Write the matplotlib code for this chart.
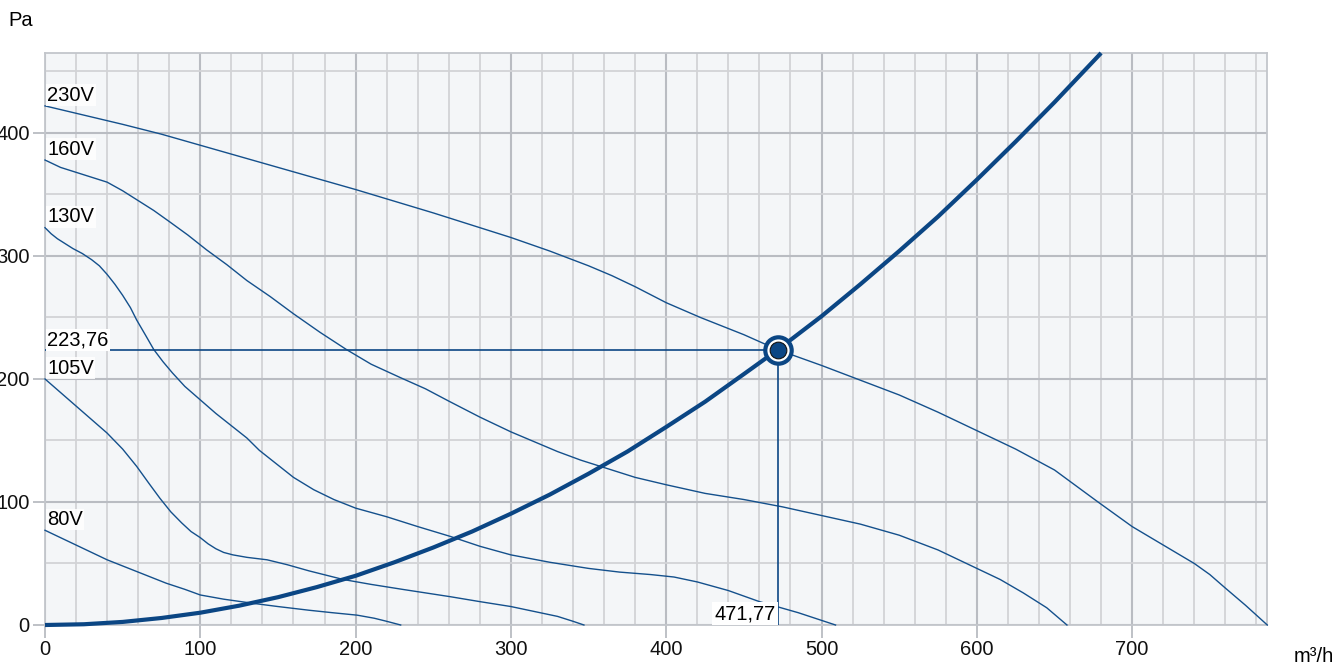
import matplotlib
matplotlib.use('Agg')
import matplotlib.pyplot as plt
from matplotlib.ticker import MultipleLocator

# fan curves (m3/h, Pa)
fan_230_x = [0, 20, 50, 75, 100, 125, 150, 200, 250, 300, 325, 350, 365, 380, 400, 422, 450, 471.77, 500, 525, 550, 575,
             600, 625, 650, 678, 700, 720, 740, 750, 760, 773, 787]
fan_230_y = [422, 416, 407, 399, 390, 381, 372, 354, 335, 315, 304, 292, 284, 275, 262, 250, 236, 223.76, 211, 199, 187, 173,
             158, 143, 126, 100, 80, 65, 50, 41, 30, 16, 0]

fan_160_x = [0, 10, 25, 40, 50, 60, 70, 80, 92, 104, 117, 130, 145, 160, 177, 194, 210, 229, 245, 260, 280, 300, 315, 330,
             345, 360, 380, 400, 425, 450, 475, 500, 525, 550, 575, 600, 615, 630, 645, 658]
fan_160_y = [378, 372, 366, 360, 353, 345, 337, 328, 317, 305, 293, 280, 267, 253, 238, 224, 212, 201, 192, 182, 169, 157,
             149, 141, 134, 128, 120, 114, 107, 102, 96, 89, 82, 73, 61, 46, 37, 26, 14, 0]

fan_130_x = [0, 4, 8, 13, 18, 24, 30, 35, 40, 45, 50, 55, 59, 65, 70, 76, 82, 90, 100, 110, 120, 130, 138, 150, 160, 173,
             186, 200, 220, 240, 261, 280, 300, 325, 350, 370, 390, 405, 420, 440, 460, 485, 509]
fan_130_y = [323, 318, 314, 310, 306, 302, 297, 292, 285, 277, 268, 258, 248, 235, 224, 214, 205, 194, 183, 172, 162, 152,
             142, 130, 120, 110, 102, 95, 88, 80, 72, 64, 57, 51, 46, 43, 41, 39, 35, 28, 19, 10, 0]

fan_105_x = [0, 10, 20, 30, 40, 50, 59, 67, 74, 81, 88, 94, 100, 105, 110, 115, 121, 130, 143, 156, 170, 192, 210, 230,
             261, 280, 300, 315, 330, 340, 347]
fan_105_y = [200, 189, 178, 167, 156, 143, 129, 115, 103, 92, 83, 76, 71, 66, 62, 59, 57, 55, 53, 49, 44, 37, 33, 29,
             23, 19, 15, 11, 7, 3, 0]

fan_80_x = [0, 10, 20, 30, 40, 50, 60, 70, 78, 90, 100, 115, 134, 150, 170, 185, 201, 212, 220, 229]
fan_80_y = [77, 71, 65, 59, 53, 48, 43, 38, 34, 29, 24.4, 21, 17.6, 15, 12, 10, 8, 5.5, 3, 0]

system_x = [0, 25, 50, 75, 100, 125, 150, 175, 200, 225, 250, 275, 300, 325, 350, 375, 400, 425, 450, 471.77,
            500, 525, 550, 575, 600, 625, 650, 680]
system_y = [0, 0.6, 2.5, 5.7, 10, 15.7, 22.6, 30.8, 40, 51, 63, 76, 90.5, 106, 123, 141, 161, 181.5, 204, 223.76,
            251, 277, 304, 332, 362, 393, 425, 465]

op_x = 471.77
op_y = 223.76
op_x_label = '471,77'
op_y_label = '223,76'

fan_curves = [
    ('230V', fan_230_x, fan_230_y),
    ('160V', fan_160_x, fan_160_y),
    ('130V', fan_130_x, fan_130_y),
    ('105V', fan_105_x, fan_105_y),
    ('80V', fan_80_x, fan_80_y),
]

x_ticks = [0, 100, 200, 300, 400, 500, 600, 700]
y_ticks = [0, 100, 200, 300, 400]

BLUE = '#14508c'
DARK = '#0b4684'
FS = 14.5

plt.rcParams['font.family'] = ['Liberation Sans', 'DejaVu Sans']

fig = plt.figure(figsize=(13.35, 6.65), dpi=100)
ax = fig.add_axes([45 / 1335, 40 / 665, 1222.3 / 1335, 572 / 665])
ax.set_facecolor('#f4f6f8')
ax.set_xlim(0, 787)
ax.set_ylim(0, 465)

# grid: minor every 20 / 50, major every 100
ax.xaxis.set_minor_locator(MultipleLocator(20))
ax.yaxis.set_minor_locator(MultipleLocator(50))
ax.set_xticks(x_ticks)
ax.set_yticks(y_ticks)
ax.grid(which='minor', color='#d2d3d6', linewidth=1.3, zorder=0)
ax.grid(which='major', color='#b9bcc2', linewidth=1.5, zorder=0)
ax.set_axisbelow(True)
for s in ax.spines.values():
    s.set_color('#c3c6cb')
    s.set_linewidth(1.3)
ax.tick_params(which='major', length=9, width=1.3, color='#b9bcc2',
               labelsize=FS, labelcolor='#111111', pad=2)
ax.tick_params(which='minor', length=0)

for name, xs, ys in fan_curves:
    ax.plot(xs, ys, color=BLUE, linewidth=1.0, zorder=3, clip_on=False)
    ax.text(1.5, ys[0] + 1, name, fontsize=FS, ha='left', va='bottom', zorder=5,
            bbox=dict(facecolor='white', edgecolor='none', alpha=0.85, pad=1.0))

ax.plot(system_x, system_y, color=DARK, linewidth=3.0, zorder=4,
        solid_capstyle='butt', clip_on=False)

# operating point cross-hair
ax.plot([0, op_x], [op_y, op_y], color=DARK, linewidth=1.2, zorder=3)
ax.plot([op_x, op_x], [0, op_y], color=DARK, linewidth=1.2, zorder=3)
ax.text(1.5, op_y + 0.5, op_y_label, fontsize=FS, ha='left', va='bottom', zorder=5,
        bbox=dict(facecolor='white', edgecolor='none', pad=1.0))
ax.text(op_x - 1.5, 1.5, op_x_label, fontsize=FS, ha='right', va='bottom', zorder=5,
        bbox=dict(facecolor='white', edgecolor='none', pad=1.6))

ax.plot([op_x], [op_y], marker='o', markersize=19, markerfacecolor='white',
        markeredgecolor=DARK, markeredgewidth=3, zorder=6)
ax.plot([op_x], [op_y], marker='o', markersize=12, markerfacecolor=DARK,
        markeredgecolor='#111111', markeredgewidth=0.8, zorder=7)

fig.text(8 / 1335, 1 - 20 / 665, 'Pa', fontsize=FS, ha='left', va='center')
fig.text(1 - 1 / 1335, 1 - 656 / 665, 'm³/h', fontsize=FS, ha='right', va='center')

fig.savefig('out.png', dpi=100)
